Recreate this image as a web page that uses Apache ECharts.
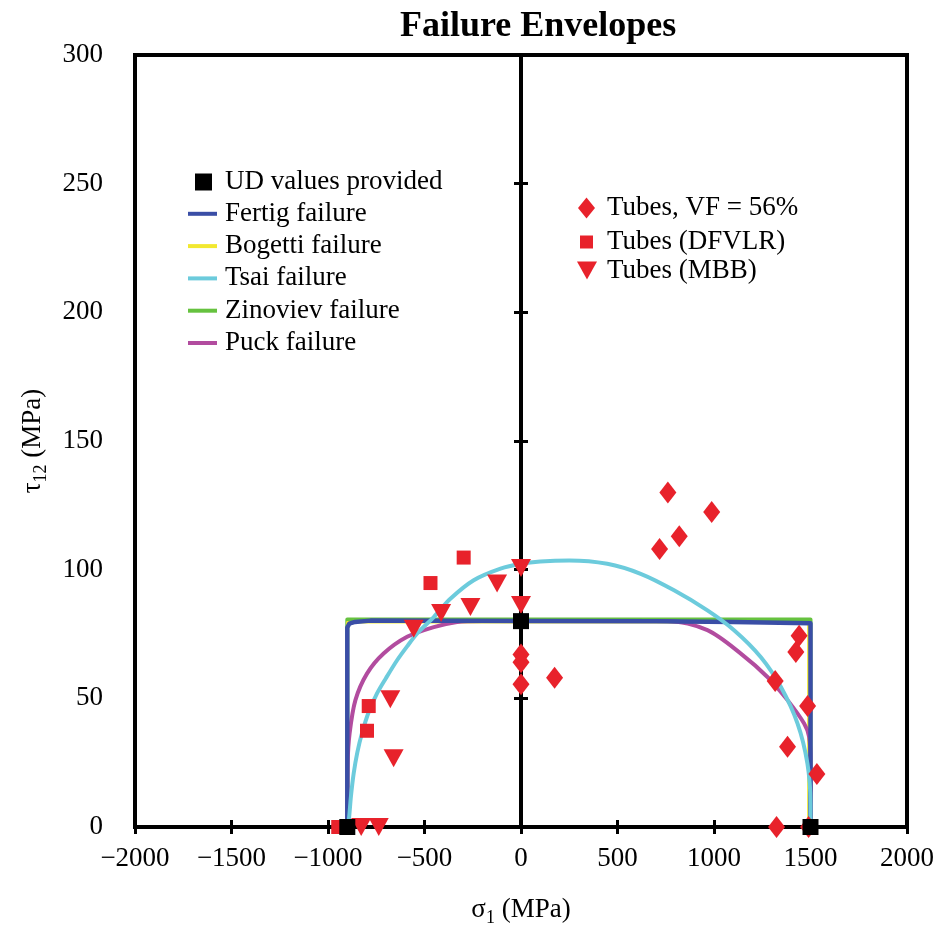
<!DOCTYPE html>
<html>
<head>
<meta charset="utf-8">
<script src="https://cdn.jsdelivr.net/npm/echarts@6/dist/echarts.min.js"></script>
<style>
  html, body { margin: 0; padding: 0; background: #ffffff; }
  #chart { width: 936px; height: 931px; }
</style>
</head>
<body>
<div id="chart"></div>
<script>
// Axis ticks (MPa)
const xTicks = [-2000, -1500, -1000, -500, 0, 500, 1000, 1500, 2000];
const yTicks = [0, 50, 100, 150, 200, 250, 300];

// Unidirectional strengths: Xc, S12, Xt
const udValues = [[-900, 0], [0, 80], [1500, 0]];

// Predicted envelopes, [sigma1, tau12]
const fertigCurve = [[-900, 0], [-900, 77.5], [-890, 79], [-860, 79.7], [-780, 80.2], [0, 80.1], [700, 80], [1100, 79.7], [1500, 79.2], [1500, 0]];
const bogettiCurve = [[-900, 0], [-900, 79.6], [1489, 79.6], [1489, 0]];
const tsaiCurve = [[-900, 0], [-893, 2], [-881, 12], [-867, 20.8], [-848, 29], [-824, 36.4], [-790, 44.5], [-746, 51.9], [-700, 57.8], [-642, 64.8], [-590, 70.2], [-538, 75.2], [-452, 81.6], [-366, 88.7], [-245, 95.9], [-106, 100.4], [0, 102.3], [100, 103.2], [250, 103.6], [447, 102.3], [620, 98.4], [793, 92], [966, 84.2], [1104, 76.5], [1242, 66.1], [1346, 54.5], [1433, 40.2], [1484, 24.7], [1500, 9], [1500, 0]];
const zinovievCurve = [[-900, 0], [-900, 80.6], [1500, 80.6], [1500, 0]];
const puckCurve = [[-900, 0], [-898, 25], [-888, 36.4], [-858, 49.3], [-798, 59.6], [-712, 67.4], [-590, 73.9], [-452, 77.7], [-331, 79.7], [-200, 80.1], [758, 80.1], [966, 76.5], [1139, 67.4], [1277, 58.3], [1381, 49.3], [1467, 40.2], [1493, 35], [1500, 25], [1500, 0]];

// Experimental tube results, [sigma1, tau12]
const tubesVF56 = [[761, 130], [988, 122.4], [820, 113], [718, 108], [174, 58], [0, 67], [0, 64], [0, 55.5], [1441, 74.3], [1424, 68], [1317, 56.7], [1485, 47], [1381, 31.2], [1533, 20.6], [1324, 0], [1490, 0]];
const tubesDFVLR = [[-297, 104.7], [-469, 94.8], [-789, 47], [-798, 37.4], [-947, 0]];
const tubesMBB = [[0, 100.6], [-124, 94.6], [-262, 85.5], [-414, 83.2], [0, 86.3], [-556, 77], [-677, 49.6], [-660, 26.7], [-828, 0], [-737, 0]];

const FONT = 'Liberation Serif';
const FS = 27;
const RED = '#e8222b';
const downTriangle = 'path://M0,0L20,0L10,18Z';

const chart = echarts.init(document.getElementById('chart'), null, { renderer: 'canvas' });

function lineSeries(name, data, color, z, width, smooth) {
  return {
    name: name,
    type: 'line',
    data: data,
    color: color,
    symbol: 'none',
    showSymbol: false,
    smooth: smooth || false,
    z: z,
    lineStyle: { color: color, width: width || 4, join: 'round', cap: 'round' },
    itemStyle: { color: color },
    silent: true,
    animation: false
  };
}

const legendText = { fontFamily: FONT, fontSize: FS, color: '#000', lineHeight: 26 };
const minus = v => String(v).replace('-', '\u2212');
const tickStyle = { show: true, inside: true, length: 7, lineStyle: { color: '#000', width: 3 } };
const subRich = {
  a: { fontFamily: FONT, fontSize: FS, lineHeight: 26, color: '#000' },
  s: { fontFamily: FONT, fontSize: 18, lineHeight: 17, padding: [17, 0, 0, 0], color: '#000' }
};

const option = {
  backgroundColor: '#ffffff',
  animation: false,
  title: {
    text: 'Failure Envelopes',
    left: 400,
    top: 9,
    padding: 0,
    textStyle: { fontFamily: FONT, fontSize: 36, fontWeight: 'bold', color: '#000' }
  },
  grid: {
    left: 135, right: 29, top: 55, bottom: 104,
    outerBoundsMode: 'none', containLabel: false,
    show: true, borderColor: '#000', borderWidth: 4, backgroundColor: 'transparent'
  },
  legend: [
    {
      data: [{ name: 'UD values provided', icon: 'rect' }],
      orient: 'vertical', left: 195, top: 168.5, padding: 0,
      itemWidth: 17, itemHeight: 17, selectedMode: false,
      textStyle: Object.assign({ padding: [0, 0, 0, 8] }, legendText)
    },
    {
      data: ['Fertig failure', 'Bogetti failure', 'Tsai failure', 'Zinoviev failure', 'Puck failure'].map(n => ({ name: n, icon: 'rect' })),
      orient: 'vertical', left: 188, top: 200.3, padding: 0, itemGap: 5.3,
      itemWidth: 29, itemHeight: 4, selectedMode: false,
      textStyle: Object.assign({ padding: [0, 0, 0, 3] }, legendText)
    },
    {
      data: [{ name: 'Tubes, VF = 56%', icon: 'diamond' }],
      orient: 'vertical', left: 578, top: 194.5, padding: 0,
      itemWidth: 17, itemHeight: 21, selectedMode: false,
      textStyle: Object.assign({ padding: [0, 0, 0, 7] }, legendText)
    },
    {
      data: [{ name: 'Tubes (DFVLR)', icon: 'rect' }],
      orient: 'vertical', left: 580, top: 228.5, padding: 0,
      itemWidth: 13, itemHeight: 13, selectedMode: false,
      textStyle: Object.assign({ padding: [0, 0, 0, 9] }, legendText)
    },
    {
      data: [{ name: 'Tubes (MBB)', icon: downTriangle }],
      orient: 'vertical', left: 577, top: 257, padding: 0,
      itemWidth: 20, itemHeight: 19, selectedMode: false,
      textStyle: Object.assign({ padding: [0, 0, 0, 5] }, legendText)
    }
  ],
  xAxis: [
    {
      type: 'value', position: 'bottom',
      min: xTicks[0], max: xTicks[xTicks.length - 1], interval: xTicks[1] - xTicks[0],
      splitLine: { show: false },
      axisLine: { show: false },
      axisTick: tickStyle,
      axisLabel: { margin: 18, fontFamily: FONT, fontSize: FS, color: '#000', formatter: minus },
      name: '{a|\u03c3}{s|1}{a| (MPa)}',
      nameLocation: 'middle', nameGap: 70,
      nameTextStyle: { fontFamily: FONT, fontSize: FS, color: '#000', rich: subRich }
    },
    {
      type: 'value', position: 'top',
      min: xTicks[0], max: xTicks[xTicks.length - 1], interval: xTicks[1] - xTicks[0],
      splitLine: { show: false },
      axisLine: { show: false },
      axisTick: tickStyle,
      axisLabel: { show: false }
    }
  ],
  yAxis: [
    {
      type: 'value', position: 'left',
      min: yTicks[0], max: yTicks[yTicks.length - 1], interval: yTicks[1] - yTicks[0],
      splitLine: { show: false },
      axisLine: { show: false },
      axisTick: tickStyle,
      axisLabel: { margin: 32, fontFamily: FONT, fontSize: FS, color: '#000' },
      name: '{a|\u03c4}{s|12}{a| (MPa)}',
      nameLocation: 'middle', nameGap: 89, nameRotate: 90,
      nameTextStyle: { fontFamily: FONT, fontSize: FS, color: '#000', rich: subRich }
    },
    {
      type: 'value', position: 'right',
      min: yTicks[0], max: yTicks[yTicks.length - 1], interval: yTicks[1] - yTicks[0],
      splitLine: { show: false },
      axisLine: { show: false },
      axisTick: tickStyle,
      axisLabel: { show: false }
    }
  ],
  series: [
    Object.assign(lineSeries('Zinoviev failure', zinovievCurve, '#66c23f', 2), {
      markLine: {
        silent: true, symbol: 'none', label: { show: false },
        lineStyle: { color: '#000', width: 4, type: 'solid' },
        data: [{ xAxis: 0 }],
        animation: false
      }
    }),
    lineSeries('Bogetti failure', bogettiCurve, '#f2e830', 3, 2.5),
    lineSeries('Puck failure', puckCurve, '#b24c9f', 4, 4, 0.3),
    lineSeries('Fertig failure', fertigCurve, '#3a4ea6', 5, 4.5),
    lineSeries('Tsai failure', tsaiCurve, '#6ccbdc', 6, 4, 0.3),
    {
      name: 'Tubes, VF = 56%', type: 'scatter', data: tubesVF56,
      symbol: 'diamond', symbolSize: [17, 22], z: 8,
      itemStyle: { color: RED, opacity: 1 }, silent: true
    },
    {
      name: 'Tubes (DFVLR)', type: 'scatter', data: tubesDFVLR,
      symbol: 'rect', symbolSize: 14, z: 8,
      itemStyle: { color: RED, opacity: 1 }, silent: true
    },
    {
      name: 'Tubes (MBB)', type: 'scatter', data: tubesMBB,
      symbol: downTriangle, symbolSize: [20, 18], z: 8,
      itemStyle: { color: RED, opacity: 1 }, silent: true
    },
    {
      name: 'UD values provided', type: 'scatter', data: udValues,
      symbol: 'rect', symbolSize: 16, z: 10,
      itemStyle: { color: '#000', opacity: 1 }, silent: true
    }
  ]
};

chart.setOption(option);
</script>
</body>
</html>
